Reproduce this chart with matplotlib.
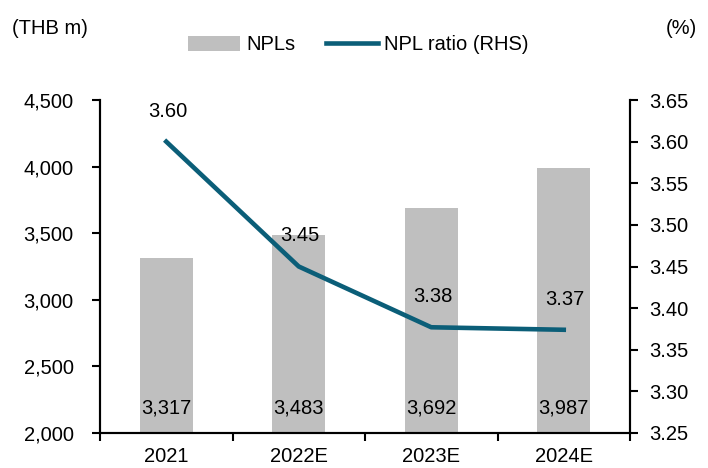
import numpy as np
import matplotlib.pyplot as plt
from matplotlib.ticker import FuncFormatter, FixedLocator

plt.rcParams['font.family'] = ['Liberation Sans', 'DejaVu Sans']

# data
years = ["2021", "2022E", "2023E", "2024E"]
npls = [3317, 3483, 3692, 3987]
npl_ratio = [3.60, 3.45, 3.377, 3.374]

bar_color = "#BFBFBF"
line_color = "#0B5E78"
fs = 14.5

fig = plt.figure(figsize=(7.08, 4.68), dpi=100)
ax = fig.add_axes([100/708, 1 - 433/468, 530/708, 333/468])
ax2 = ax.twinx()

x = np.arange(len(years))
ax.bar(x, npls, width=0.4, color=bar_color, label="NPLs", zorder=2)
ax2.plot(x, npl_ratio, color=line_color, lw=3.3, label="NPL ratio (RHS)", zorder=3)

ax.set_zorder(ax2.get_zorder() - 1)
ax.patch.set_visible(False)

ax.set_xlim(-0.5, len(years) - 0.5)
ax.set_ylim(2000, 4500)
ax.set_yticks(np.arange(2000, 4501, 500))
ax.yaxis.set_major_formatter(FuncFormatter(lambda v, p: f"{v:,.0f}"))
ax2.set_ylim(3.25, 3.65)
ax2.set_yticks(np.arange(3.25, 3.651, 0.05))
ax2.yaxis.set_major_formatter(FuncFormatter(lambda v, p: f"{v:.2f}"))

# category labels centred, tick marks at the boundaries
ax.set_xticks(x)
ax.set_xticklabels(years)
ax.xaxis.set_minor_locator(FixedLocator(np.arange(-0.5, len(years), 1)))
ax.tick_params(axis='x', which='major', length=0, pad=10, labelsize=fs)
ax.tick_params(axis='x', which='minor', length=6, width=1.5, direction='out')
ax.tick_params(axis='y', length=6, width=1.5, pad=13, labelsize=fs)
ax2.tick_params(axis='y', length=6, width=1.5, pad=8, labelsize=fs)

for a in (ax, ax2):
    for s in a.spines.values():
        s.set_linewidth(1.5)
    a.spines['top'].set_visible(False)

for xi, v in zip(x, npls):
    ax.annotate(f"{v:,}", (xi, 2000), xytext=(0, 18), textcoords='offset points',
                ha='center', va='center', fontsize=fs)
for xi, v in zip(x, npl_ratio):
    ax2.annotate(f"{v:.2f}", (xi, v), xytext=(1, 22), textcoords='offset points',
                 ha='center', va='center', fontsize=fs)

fig.text(12/708, 1 - 28/468, "(THB m)", fontsize=fs, ha='left', va='center')
fig.text(697/708, 1 - 28/468, "(%)", fontsize=fs, ha='right', va='center')

h1, l1 = ax.get_legend_handles_labels()
h2, l2 = ax2.get_legend_handles_labels()
fig.legend(h1 + h2, l1 + l2, loc='center', bbox_to_anchor=(0.506, 1 - 45/468),
           ncol=2, frameon=False, fontsize=fs, handlelength=2.6,
           handletextpad=0.3, columnspacing=1.5)

fig.savefig("out.png", dpi=100)
